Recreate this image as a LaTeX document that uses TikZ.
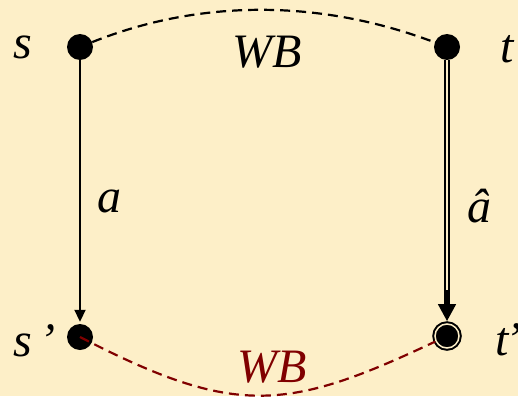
\documentclass[tikz,border=0pt]{standalone}
\usepackage{fontspec}
\setmainfont{Liberation Serif}
\usetikzlibrary{arrows.meta}
\definecolor{paper}{RGB}{253,239,200}
\definecolor{wbred}{RGB}{128,0,0}

\begin{document}
\begin{tikzpicture}
  [x=1pt,y=-1pt,
   every node/.style={font=\fontsize{48}{56}\selectfont\itshape},
   state/.style={circle,fill=black,inner sep=0pt,minimum size=26pt},
   final/.style={circle,fill=black,draw=black,double=paper,double distance=1.5pt,line width=2pt,inner sep=0pt,minimum size=24pt},
   lbl/.style={anchor=base west,inner sep=0pt},
   bisim/.style={dash pattern=on 10pt off 6pt,line width=2.2pt}]
  \fill[paper] (0,0) rectangle (518,396);
  \useasboundingbox (0,0) rectangle (518,396);
  \node[state] (s) at (80,47) {};
  \node[state] (t) at (447,47) {};
  \node[state] (s1) at (80,337) {};
  \node[final] (t1) at (447,336) {};
  % labels
  \node[lbl] (ls) at (13,59) {s};
  \node[lbl] (lt) at (500,62) {t};
  \node[lbl] (ls1) at (13,356) {s\,’};
  \node[lbl] (lt1) at (495,355) {t\kern-3pt’};
  \node[lbl] (la) at (97,212) {a};
  \node[lbl] (lahat) at (467,222) {â};
  \node[lbl] (wbtop) at (232,67) {WB};
  \node[lbl,text=wbred] (wbbot) at (237,382) {WB};
  % transitions
  \draw[line width=1.9pt,shorten >=2pt,-{Triangle[length=12pt,width=11pt]}] (s) -- (s1);
  \draw[line width=1.8pt,double=paper,double distance=2.8pt,shorten >=14pt] (t) -- (t1);
  \draw[line width=1.8pt,shorten >=2pt,shorten <=230pt,-{Triangle[length=17pt,width=18pt]}] (t) -- (t1);
  % bisimulations
  \draw[bisim] (s) .. controls (200,-1) and (320,-1) .. (t);
  \draw[bisim,wbred] (s1.center) .. controls (235,417) and (286,412) .. (t1);
\end{tikzpicture}
\end{document}
